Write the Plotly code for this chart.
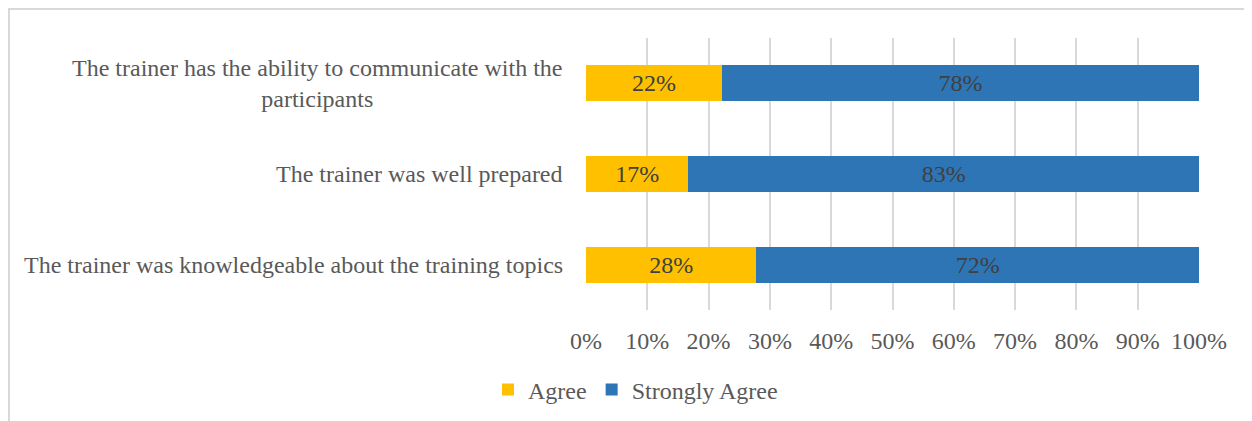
import plotly.graph_objects as go

categories = [
    "The trainer has the ability to communicate with the<br>participants",
    "The trainer was well prepared",
    "The trainer was knowledgeable about the training topics",
]
agree = [22.2, 16.7, 27.8]
strongly_agree = [77.8, 83.3, 72.2]
tick_vals = [0, 10, 20, 30, 40, 50, 60, 70, 80, 90, 100]
tick_text = [f"{v}%" for v in tick_vals]

FONT = "Liberation Serif, Times New Roman, serif"
FS = 24

# page offset of 8px (body margin)
L, T = 578, 30
PW, PH = 613, 272

fig = go.Figure()
fig.add_trace(go.Bar(
    y=categories, x=agree, name="Agree", orientation="h",
    marker=dict(color="#FFC000", line=dict(width=0)),
    texttemplate="%{x:.0f}%", textposition="inside", insidetextanchor="middle",
    textfont=dict(family=FONT, size=FS, color="#404040"),
    constraintext="none",
))
fig.add_trace(go.Bar(
    y=categories, x=strongly_agree, name="Strongly Agree", orientation="h",
    marker=dict(color="#2E75B6", line=dict(width=0)),
    texttemplate="%{x:.0f}%", textposition="inside", insidetextanchor="middle",
    textfont=dict(family=FONT, size=FS, color="#404040"),
    constraintext="none",
))

for c in categories:
    fig.add_annotation(
        x=0, xref="paper", y=c, yref="y", text=c, showarrow=False,
        xanchor="right", yanchor="middle", xshift=-21, align="center",
        font=dict(family=FONT, size=FS, color="#595959"),
    )

fig.add_shape(
    type="rect", xref="paper", yref="paper",
    x0=(1 - L) / PW, x1=1.2, y0=-0.6, y1=(T + PH - 1) / PH,
    line=dict(color="#D9D9D9", width=2), fillcolor="rgba(0,0,0,0)", layer="below",
)

fig.update_layout(
    width=1252, height=421,
    margin=dict(l=L, r=1252 - L - PW, t=T, b=421 - T - PH),
    barmode="stack", bargap=0.6,
    plot_bgcolor="white", paper_bgcolor="white",
    font=dict(family=FONT, size=FS, color="#595959"),
    showlegend=True,
    legend=dict(
        orientation="h", x=(480 - L) / PW, xanchor="left",
        y=(T + PH - 382) / PH, yanchor="middle",
        font=dict(family=FONT, size=FS, color="#595959"),
        itemwidth=30, traceorder="normal",
    ),
    xaxis=dict(
        range=[0, 100], tickvals=tick_vals, ticktext=tick_text,
        showgrid=True, gridcolor="#D9D9D9", gridwidth=1.5,
        zeroline=False, showline=False, ticks="",
        ticklabelstandoff=14,
        tickfont=dict(family=FONT, size=FS, color="#595959"),
    ),
    yaxis=dict(
        autorange="reversed", showticklabels=False, showgrid=False,
        zeroline=False, showline=False, ticks="",
    ),
)

fig.write_html("out.html")
